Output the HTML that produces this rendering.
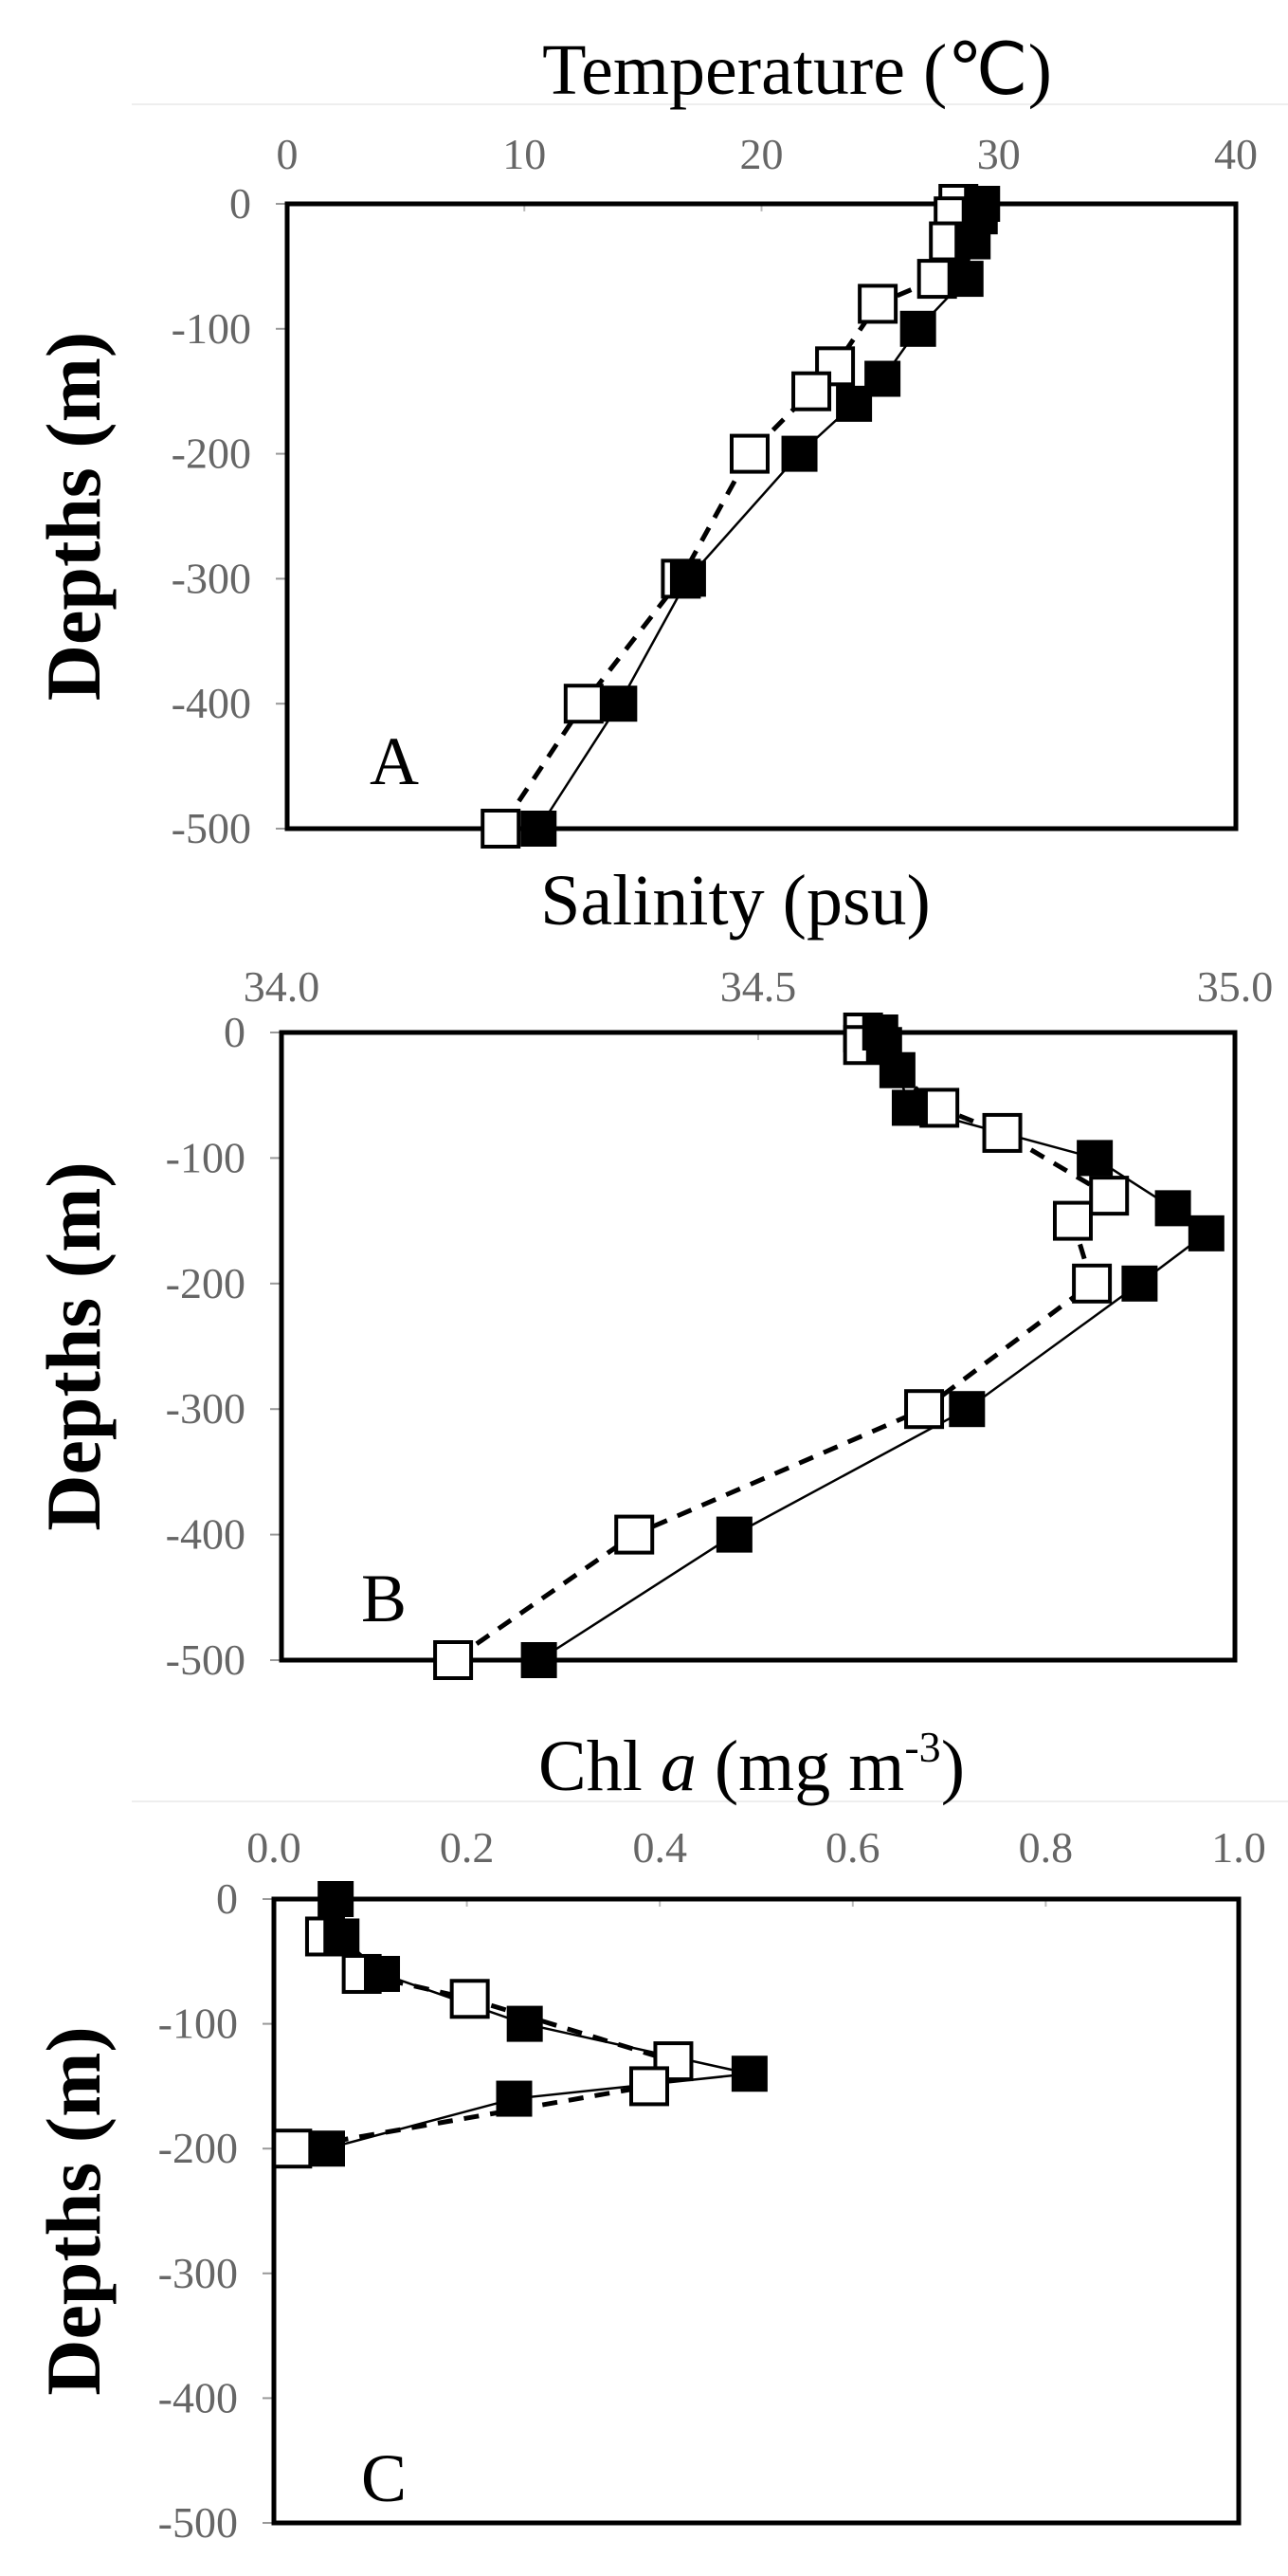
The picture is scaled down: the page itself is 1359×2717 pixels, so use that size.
<!DOCTYPE html>
<html><head><meta charset="utf-8"><style>
html,body{margin:0;padding:0;background:#fff}
svg{display:block}
.tick{font-family:"Liberation Serif",serif;font-size:46px;fill:#666}
.title{font-family:"Liberation Serif",serif;font-size:76px;fill:#000}
.ylab{font-family:"Liberation Serif",serif;font-size:82px;font-weight:bold;fill:#000}
.panel{font-family:"Liberation Serif",serif;font-size:72px;fill:#000}
</style></head><body>
<svg id="chart" width="1359" height="2717" viewBox="0 0 1359 2717" xmlns="http://www.w3.org/2000/svg"></svg>
<script>
const depthTicks=[0,-100,-200,-300,-400,-500];
const tempTicks=[0,10,20,30,40];
const salTicks=[34.0,34.5,35.0];
const chlTicks=[0.0,0.2,0.4,0.6,0.8,1.0];
const tempFilledDepth=[0,10,30,60,100,140,160,200,300,400,500];
const tempFilled=[29.3,29.2,28.9,28.6,26.6,25.1,23.9,21.6,16.9,14.0,10.6];
const tempOpenDepth=[0,10,30,60,80,130,150,200,300,400,500];
const tempOpen=[28.3,28.1,27.9,27.4,24.9,23.1,22.1,19.5,16.6,12.5,9.0];
const salFilledDepth=[0,10,30,60,100,140,160,200,300,400,500];
const salFilled=[34.628,34.632,34.646,34.659,34.853,34.935,34.97,34.90,34.719,34.475,34.27];
const salOpenDepth=[0,10,60,80,130,150,200,300,400,500];
const salOpen=[34.61,34.61,34.69,34.756,34.868,34.83,34.85,34.674,34.37,34.18];
const chlFilledDepth=[0,30,60,100,140,160,200];
const chlFilled=[0.064,0.07,0.112,0.26,0.493,0.249,0.055];
const chlOpenDepth=[30,60,80,130,150,200];
const chlOpen=[0.053,0.091,0.203,0.414,0.389,0.019];

const NS="http://www.w3.org/2000/svg";
const svg=document.getElementById('chart');
function mk(tag,attrs,parent){const e=document.createElementNS(NS,tag);for(const k in attrs)e.setAttribute(k,attrs[k]);(parent||svg).appendChild(e);return e;}

const panels=[
 {id:'a',L:303,R:1304,T:215,B:874,xmin:0,xmax:40,ticks:tempTicks,fmt:v=>String(v),title:'Temperature (℃)',tx:841,ty:99,line:110,tickY:178,letter:'A',lx:390,ly:827,
  fd:tempFilledDepth,fv:tempFilled,od:tempOpenDepth,ov:tempOpen},
 {id:'b',L:297,R:1303,T:1089,B:1751,xmin:34,xmax:35,ticks:salTicks,fmt:v=>v.toFixed(1),title:'Salinity (psu)',tx:776,ty:975,line:null,tickY:1056,letter:'B',lx:381,ly:1710,
  fd:salFilledDepth,fv:salFilled,od:salOpenDepth,ov:salOpen},
 {id:'c',L:289,R:1307,T:2003,B:2661,xmin:0,xmax:1,ticks:chlTicks,fmt:v=>v.toFixed(1),title:null,tx:793,ty:1888,line:1900,tickY:1964,letter:'C',lx:381,ly:2638,
  fd:chlFilledDepth,fv:chlFilled,od:chlOpenDepth,ov:chlOpen}
];

panels.forEach(p=>{
  const g=mk('g',{});
  
  
  const xs=v=>p.L+(v-p.xmin)/(p.xmax-p.xmin)*(p.R-p.L);
  const ys=d=>p.T+(d/500)*(p.B-p.T);
  if(p.line!==null){const ln=mk('line',{x1:139,x2:1359,y1:p.line,y2:p.line,stroke:'#eee','stroke-width':2},g);
    }
  let t;
  if(p.title){t=mk('text',{x:p.tx,y:p.ty,'text-anchor':'middle',class:'title'},g);t.textContent=p.title;}
  else{t=mk('text',{x:p.tx,y:p.ty,'text-anchor':'middle',class:'title'},g);
    t.innerHTML='Chl <tspan font-style="italic">a</tspan> (mg m<tspan dy="-30" font-size="46">-3</tspan><tspan dy="30">)</tspan>';}
  
  const yl=mk('text',{x:0,y:0,'text-anchor':'middle',class:'ylab',transform:`translate(105,${(p.T+p.B)/2}) rotate(-90)`},g);
  yl.textContent='Depths (m)';
  
  p.ticks.forEach(v=>{
    const tx=mk('text',{x:xs(v),y:p.tickY,'text-anchor':'middle',class:'tick'},g);
    tx.textContent=p.fmt(v);
    
    const tm=mk('line',{x1:xs(v),x2:xs(v),y1:p.T,y2:p.T+8,stroke:'#bbb','stroke-width':2},g);
    
  });
  depthTicks.forEach(d=>{
    const ty=mk('text',{x:p.L-38,y:ys(-d)+15,'text-anchor':'end',class:'tick'},g);
    ty.textContent=String(d);
    
    const tm=mk('line',{x1:p.L-12,x2:p.L,y1:ys(-d),y2:ys(-d),stroke:'#999','stroke-width':2},g);
    
  });
  const fr=mk('rect',{x:p.L,y:p.T,width:p.R-p.L,height:p.B-p.T,fill:'none',stroke:'#000','stroke-width':5},g);
  
  const fl=mk('polyline',{points:p.fv.map((v,i)=>xs(v)+','+ys(p.fd[i])).join(' '),fill:'none',stroke:'#000','stroke-width':2.5},g);
  
  const ol=mk('polyline',{points:p.ov.map((v,i)=>xs(v)+','+ys(p.od[i])).join(' '),fill:'none',stroke:'#000','stroke-width':5,'stroke-dasharray':'16 12'},g);
  
  const s=38;
  p.ov.forEach((v,i)=>{
    const r=mk('rect',{x:xs(v)-s/2,y:ys(p.od[i])-s/2,width:s,height:s,fill:'#fff',stroke:'#000','stroke-width':4},g);
    
  });
  p.fv.forEach((v,i)=>{
    const r=mk('rect',{x:xs(v)-s/2,y:ys(p.fd[i])-s/2,width:s,height:s,fill:'#000'},g);
    
  });
  const lt=mk('text',{x:p.lx,y:p.ly,class:'panel'},g);
  lt.textContent=p.letter;
  
});
</script>
</body></html>
